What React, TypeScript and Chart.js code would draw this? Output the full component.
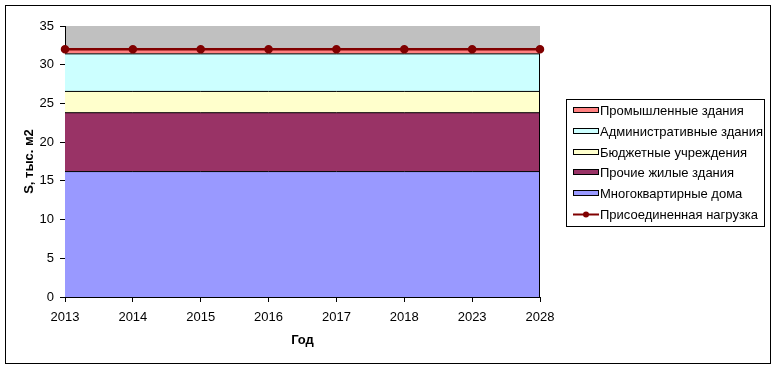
import React, { useEffect, useRef } from "react";
import { Chart, registerables } from "chart.js";

Chart.register(...registerables);

// ---- data ----
const years = ["2013", "2014", "2015", "2016", "2017", "2018", "2023", "2028"];
const apartmentHouses = [16.2, 16.2, 16.2, 16.2, 16.2, 16.2, 16.2, 16.2];
const otherResidential = [7.6, 7.6, 7.6, 7.6, 7.6, 7.6, 7.6, 7.6];
const budgetInstitutions = [2.75, 2.75, 2.75, 2.75, 2.75, 2.75, 2.75, 2.75];
const administrative = [4.85, 4.85, 4.85, 4.85, 4.85, 4.85, 4.85, 4.85];
const industrial = [0.7, 0.7, 0.7, 0.7, 0.7, 0.7, 0.7, 0.7];
const connectedLoad = [32, 32, 32, 32, 32, 32, 32, 32];

const yMin = 0;
const yMax = 35;
const yStep = 5;

const seriesNames = [
  "Многоквартирные дома",
  "Прочие жилые здания",
  "Бюджетные учреждения",
  "Административные здания",
  "Промышленные здания",
  "Присоединенная нагрузка",
];
const yTitle = "S, тыс. м2";
const xTitle = "Год";

const FONT = '"Liberation Sans", Arial, sans-serif';

const framePlugin = {
  id: "frame",
  beforeDraw(chart: any) {
    const { ctx, chartArea } = chart;
    ctx.save();
    ctx.fillStyle = "#ffffff";
    ctx.fillRect(0, 0, chart.width, chart.height);
    ctx.strokeStyle = "#000000";
    ctx.lineWidth = 1;
    ctx.strokeRect(5.5, 5.5, 765, 358);
    ctx.fillStyle = "#C0C0C0";
    ctx.fillRect(chartArea.left, chartArea.top, chartArea.right - chartArea.left, chartArea.bottom - chartArea.top);
    ctx.restore();
  },
  afterDatasetsDraw(chart: any) {
    // right edge outline of the stacked areas
    const { ctx } = chart;
    const xs = chart.scales.x;
    const ys = chart.scales.y;
    const last = years.length - 1;
    const top =
      apartmentHouses[last] + otherResidential[last] + budgetInstitutions[last] + administrative[last];
    const x = Math.round(xs.getPixelForValue(last)) - 0.5;
    ctx.save();
    ctx.strokeStyle = "#000000";
    ctx.lineWidth = 1;
    ctx.beginPath();
    ctx.moveTo(x, ys.getPixelForValue(0));
    ctx.lineTo(x, ys.getPixelForValue(top));
    ctx.stroke();
    ctx.restore();
  },
};

const legendPlugin = {
  id: "excelLegend",
  afterDraw(chart: any) {
    const { ctx } = chart;
    const order = [4, 3, 2, 1, 0, 5];
    const bx = 566;
    const by = 99;
    const bw = 198;
    const bh = 127;
    ctx.save();
    ctx.fillStyle = "#ffffff";
    ctx.fillRect(bx, by, bw, bh);
    ctx.strokeStyle = "#000000";
    ctx.lineWidth = 1;
    ctx.strokeRect(bx + 0.5, by + 0.5, bw, bh);
    ctx.font = `13px ${FONT}`;
    ctx.textBaseline = "middle";
    ctx.textAlign = "left";
    order.forEach((di, i) => {
      const ds = chart.data.datasets[di];
      const cy = Math.round(110 + i * 20.8);
      if (di === 5) {
        ctx.strokeStyle = ds.borderColor;
        ctx.lineWidth = 2;
        ctx.beginPath();
        ctx.moveTo(573, cy + 0.5);
        ctx.lineTo(599, cy + 0.5);
        ctx.stroke();
        ctx.fillStyle = ds.pointBackgroundColor;
        ctx.beginPath();
        ctx.arc(586, cy + 0.5, 3, 0, Math.PI * 2);
        ctx.fill();
      } else {
        ctx.fillStyle = ds.backgroundColor;
        ctx.fillRect(573, cy - 3, 26, 6);
        ctx.strokeStyle = "#000000";
        ctx.lineWidth = 1;
        ctx.strokeRect(573.5, cy - 2.5, 25, 5);
      }
      ctx.fillStyle = "#000000";
      ctx.fillText(ds.label, 600, cy + 1);
    });
    ctx.restore();
  },
};

export default function App() {
  const ref = useRef<HTMLCanvasElement | null>(null);

  useEffect(() => {
    if (!ref.current) return;
    Chart.defaults.font.family = FONT;
    Chart.defaults.font.size = 13;
    Chart.defaults.color = "#000000";

    const area = (label: string, data: number[], color: string, border: string, fill: any) => ({
      type: "line" as const,
      label,
      data,
      backgroundColor: color,
      borderColor: border,
      borderWidth: 1,
      pointRadius: 0,
      pointHoverRadius: 0,
      fill,
      tension: 0,
      stack: "areas",
      order: 1,
    });

    const chart = new Chart(ref.current, {
      type: "line",
      data: {
        labels: years,
        datasets: [
          area(seriesNames[0], apartmentHouses, "#9999FF", "#000000", "origin"),
          area(seriesNames[1], otherResidential, "#993366", "#000000", "-1"),
          area(seriesNames[2], budgetInstitutions, "#FFFFCC", "#000000", "-1"),
          area(seriesNames[3], administrative, "#CCFFFF", "#000000", "-1"),
          area(seriesNames[4], industrial, "#FF8080", "#FF8080", "-1"),
          {
            type: "line",
            label: seriesNames[5],
            data: connectedLoad,
            borderColor: "#800000",
            backgroundColor: "#800000",
            pointBackgroundColor: "#800000",
            pointBorderColor: "#800000",
            pointRadius: 3,
            borderWidth: 2.5,
            fill: false,
            tension: 0,
            stack: "load",
            order: 0,
          } as any,
        ],
      },
      options: {
        animation: false,
        responsive: false,
        devicePixelRatio: 1,
        layout: { padding: { top: 26, right: 237, bottom: 0, left: 0 } },
        plugins: {
          legend: { display: false },
          tooltip: { enabled: false },
        },
        scales: {
          x: {
            type: "category",
            offset: false,
            z: 1,
            grid: {
              display: true,
              drawOnChartArea: false,
              drawTicks: true,
              tickLength: 5,
              color: "#000000",
            },
            border: { display: true, color: "#000000", width: 1 },
            ticks: { padding: 8, color: "#000000", font: { size: 13 }, maxRotation: 0, autoSkip: false },
            title: {
              display: true,
              text: xTitle,
              font: { size: 13, weight: "bold" },
              padding: { top: 0, bottom: 21 },
              color: "#000000",
            },
            afterFit: (s: any) => {
              s.height = 72;
            },
          },
          y: {
            stacked: true,
            min: yMin,
            max: yMax,
            z: 1,
            ticks: { stepSize: yStep, padding: 6, color: "#000000", font: { size: 13 } },
            grid: {
              display: true,
              drawOnChartArea: false,
              drawTicks: true,
              tickLength: 5,
              color: "#000000",
            },
            border: { display: true, color: "#000000", width: 1 },
            title: {
              display: true,
              text: yTitle,
              font: { size: 13, weight: "bold" },
              padding: { top: 22, bottom: 0 },
              color: "#000000",
            },
            afterFit: (s: any) => {
              s.width = 65;
            },
          },
        },
      } as any,
      plugins: [framePlugin, legendPlugin],
    });
    return () => chart.destroy();
  }, []);

  return (
    <div style={{ position: "fixed", left: 0, top: 0, width: 777, height: 369, background: "#fff" }}>
      <canvas ref={ref} width={777} height={369} style={{ display: "block", width: 777, height: 369 }} />
    </div>
  );
}
